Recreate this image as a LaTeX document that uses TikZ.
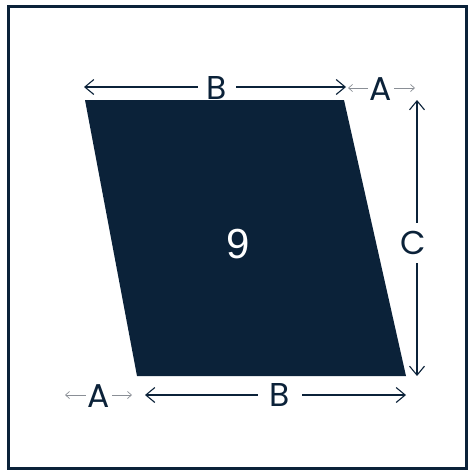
\documentclass[tikz,border=0pt]{standalone}
\usepackage{fontspec}
\setmainfont{Poppins}
\newfontfamily\ninefont{Liberation Sans}
\usetikzlibrary{arrows.meta}
\definecolor{navy}{HTML}{0B2239}
\definecolor{agray}{HTML}{8A8F96}
\begin{document}
\begin{tikzpicture}[x=1pt,y=-1pt,
  dimB/.style={line width=1.1pt,draw=navy,{Straight Barb[length=9pt,width=15pt]}-{Straight Barb[length=9pt,width=15pt]}},
  dimA/.style={line width=0.7pt,draw=agray,{Straight Barb[length=4pt,width=7pt]}-{Straight Barb[length=4pt,width=7pt]}},
  lbl/.style={text=navy,font=\fontsize{33}{33}\selectfont,fill=white,inner xsep=9pt,inner ysep=0pt},
  lblA/.style={text=navy,font=\fontsize{33}{33}\selectfont,fill=white,inner xsep=1.5pt,inner ysep=0pt}]
\useasboundingbox (0,0) rectangle (474,474);
\fill[white] (0,0) rectangle (474,474);
\draw[navy,line width=3pt] (8,6) rectangle (466,468);
\fill[navy] (85,100) -- (344,100) -- (406,376) -- (137,376) -- cycle;
\node[text=white,font=\ninefont\fontsize{42}{42}\selectfont] (nine) at (238,244) {9};
% top
\coordinate (tb1) at (84,87); \coordinate (tb2) at (346,87);
\draw[dimB] (tb1) -- (tb2);
\node[lbl] (lB1) at (217,88) {B};
\coordinate (ta1) at (348,88); \coordinate (ta2) at (415,88);
\draw[dimA] (ta1) -- (ta2);
\node[lblA] (lA1) at (381,89) {A};
% right
\coordinate (c1) at (417,100); \coordinate (c2) at (417,376);
\draw[dimB] (c1) -- (c2);
\node[lbl,inner xsep=1pt,inner ysep=8pt] (lC) at (413,243) {C};
% bottom
\coordinate (ba1) at (65,395); \coordinate (ba2) at (132,395);
\draw[dimA] (ba1) -- (ba2);
\node[lblA] (lA2) at (99,396) {A};
\coordinate (bb1) at (145,395); \coordinate (bb2) at (406,395);
\draw[dimB] (bb1) -- (bb2);
\node[lbl,inner xsep=12pt] (lB2) at (280,395) {B};
\end{tikzpicture}
\end{document}
